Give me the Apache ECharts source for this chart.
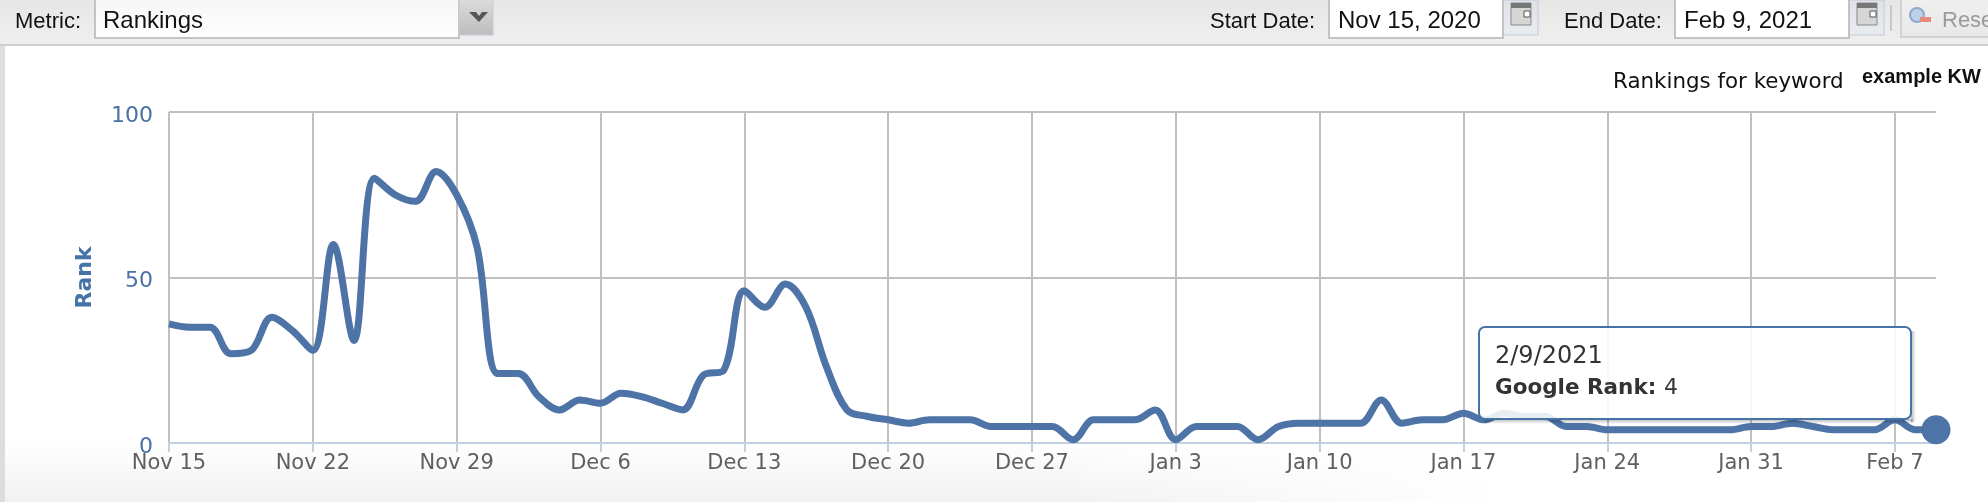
<!DOCTYPE html>
<html><head><meta charset="utf-8">
<style>html,body{margin:0;padding:0;background:#fff}#c{width:1988px;height:502px}</style>
<script src="https://cdn.jsdelivr.net/npm/echarts@6/dist/echarts.min.js"></script>
</head><body><div id="c"></div>
<script>
const categories = [
 'Nov 15','Nov 16','Nov 17','Nov 18','Nov 19','Nov 20','Nov 21','Nov 22','Nov 23','Nov 24','Nov 25','Nov 26','Nov 27','Nov 28','Nov 29','Nov 30',
 'Dec 1','Dec 2','Dec 3','Dec 4','Dec 5','Dec 6','Dec 7','Dec 8','Dec 9','Dec 10','Dec 11','Dec 12','Dec 13','Dec 14','Dec 15','Dec 16','Dec 17','Dec 18','Dec 19','Dec 20','Dec 21','Dec 22','Dec 23','Dec 24','Dec 25','Dec 26','Dec 27','Dec 28','Dec 29','Dec 30','Dec 31',
 'Jan 1','Jan 2','Jan 3','Jan 4','Jan 5','Jan 6','Jan 7','Jan 8','Jan 9','Jan 10','Jan 11','Jan 12','Jan 13','Jan 14','Jan 15','Jan 16','Jan 17','Jan 18','Jan 19','Jan 20','Jan 21','Jan 22','Jan 23','Jan 24','Jan 25','Jan 26','Jan 27','Jan 28','Jan 29','Jan 30','Jan 31',
 'Feb 1','Feb 2','Feb 3','Feb 4','Feb 5','Feb 6','Feb 7','Feb 8','Feb 9'];
const rank = [
 36,35,35,27,28,38,34,28,60,31,80,75,73,82,75,59,21,21,14,10,13,12,
 15,14,12,10,20.5,22,46,41,48,41,23,10,8,7,6,7,7,7,5,5,5,5,1,7,
 7,7,10,1,5,5,5,1,5,6,6,6,6,13,6,7,7,9,7,9,8,8,5,5,4,
 4,4,4,4,4,4,5,5,6,5,4,4,4,7,4,4];
const yTicks = [0,50,100];
const BLUE='#4e73a6', GRID='#c0c0c0', AXIS='#c0d0e0';
const arial='"Liberation Sans",Arial,sans-serif', dv='"DejaVu Sans",sans-serif';
const chart=echarts.init(document.getElementById('c'),null,{renderer:'canvas'});
const txt=(x,y,text,o={})=>({type:'text',x,y,z:o.z||5,style:Object.assign({text,font:'22px '+arial,fill:'#111',textVerticalAlign:'middle'},o.s||{})});
const rect=(x,y,w,h,fill,o={})=>({type:'rect',z:o.z||1,shape:{x,y,width:w,height:h,r:o.r||0},style:{fill,stroke:o.stroke||null,lineWidth:o.lw||0}});
const vg=(a,b)=>new echarts.graphic.LinearGradient(0,0,0,1,[{offset:0,color:a},{offset:1,color:b}]);
const hg=(a,b)=>new echarts.graphic.LinearGradient(0,0,1,0,[{offset:0,color:a},{offset:1,color:b}]);
const calendar=x=>[
 rect(x,0,35,35,vg('#dfe3e8','#e8ebf0'),{stroke:'#c4cad6',lw:1}),
 rect(x+8,3,20,22,'#d6d6d6',{stroke:'#8a8a8a',lw:1,z:2}),
 rect(x+8,3,20,5,'#777',{z:3}),
 rect(x+21,11,6,6,'#fff',{stroke:'#555',lw:1,z:3})];
chart.setOption({
 animation:false,
 backgroundColor:'#fff',
 grid:{left:169,top:112,width:1767,height:331,containLabel:false},
 xAxis:{type:'category',data:categories,boundaryGap:false,
  axisLine:{lineStyle:{color:AXIS,width:2}},
  axisTick:{interval:6,length:9,lineStyle:{color:AXIS,width:2},alignWithLabel:true},
  splitLine:{show:true,interval:6,lineStyle:{color:GRID,width:2}},
  axisLabel:{interval:6,color:'#5f5f5f',fontSize:21,fontFamily:dv,margin:10,hideOverlap:false}},
 yAxis:{type:'value',min:0,max:100,interval:50,
  name:'Rank',nameLocation:'middle',nameGap:67,nameRotate:90,
  nameTextStyle:{color:'#4572a7',fontSize:22,fontWeight:'bold',fontFamily:dv,padding:[0,0,6,0]},
  axisLine:{show:false},axisTick:{show:false},
  splitLine:{lineStyle:{color:GRID,width:2}},
  axisLabel:{color:'#4a70a6',fontSize:22,fontFamily:dv,margin:16,verticalAlign:'top',lineHeight:8,
   formatter:v=>yTicks.includes(v)?String(v):''}},
 series:[{type:'line',z:3,smooth:0.35,symbol:'none',showSymbol:true,showAllSymbol:true,clip:false,
  lineStyle:{color:BLUE,width:7},itemStyle:{color:BLUE},
  data:rank.map((v,i)=>i===rank.length-1?{value:v,symbol:'circle',symbolSize:29}:v)}],
 graphic:{elements:[
  rect(0,45,5,457,'#dddddd',{z:-1}),
  rect(0,443,1988,59,vg('#ffffff','#f1f1f1'),{z:-2}),
  {type:'rect',z:-1,shape:{x:1050,y:443,width:450,height:59},style:{fill:hg('rgba(255,255,255,0)','#fff')}},
  rect(1500,443,488,59,'#fff',{z:-1}),
  rect(0,0,1988,44,vg('#e6e6e6','#efefef'),{z:1}),
  rect(0,44,1988,2,'#cfcfcf',{z:2}),
  txt(15,22,'Metric:'),
  rect(95,-2,364,40,vg('#f6f6f6','#ffffff'),{stroke:'#c3c3c3',lw:2,z:2}),
  txt(103,21,'Rankings',{s:{font:'24px '+arial}}),
  rect(459,-2,34,37,vg('#dcdcdc','#bdbdbd'),{stroke:'#c4cad6',lw:1,z:2}),
  {type:'polygon',z:4,shape:{points:[[469,12],[476,12],[479,16],[482,12],[488,12],[479,22]]},style:{fill:'#555'}},
  txt(1210,22,'Start Date:'),
  rect(1329,-2,174,40,'#fff',{stroke:'#c3c3c3',lw:2,z:2}),
  txt(1338,21,'Nov 15, 2020',{s:{font:'24px '+arial}}),
  ...calendar(1503),
  txt(1564,22,'End Date:'),
  rect(1675,-2,174,40,'#fff',{stroke:'#c3c3c3',lw:2,z:2}),
  txt(1684,21,'Feb 9, 2021',{s:{font:'24px '+arial}}),
  ...calendar(1849),
  rect(1890,5,2,26,'#c8c8c8',{z:2}),
  rect(1901,-2,100,39,vg('#f0f0f0','#e8e8e8'),{stroke:'#d2d2d2',lw:2,z:2}),
  {type:'circle',z:3,shape:{cx:1917,cy:15,r:7},style:{fill:'#bcd0ea',stroke:'#8fa9c9',lineWidth:2}},
  rect(1920,17,11,5,'#e98a7a',{z:4}),
  txt(1942,21,'Rese',{s:{fill:'#9a9a9a',font:'22px '+arial}}),
  txt(1613,82,'Rankings for keyword',{s:{font:'21.4px '+dv}}),
  txt(1862,77,'example KW',{s:{font:'bold 20px '+arial}}),
  {type:'rect',z:49,shape:{x:1911,y:331,width:5,height:91},style:{fill:hg('rgba(0,0,0,0.28)','rgba(0,0,0,0)')}},
  {type:'rect',z:49,shape:{x:1484,y:419,width:429,height:5},style:{fill:vg('rgba(0,0,0,0.28)','rgba(0,0,0,0)')}},
  {type:'rect',z:50,shape:{x:1479,y:327,width:432,height:92,r:6},
   style:{fill:'rgba(255,255,255,0.87)',stroke:'#4572a7',lineWidth:2}},
  txt(1495,357,'2/9/2021',{z:51,s:{font:'24px '+dv,fill:'#333'}}),
  txt(1495,388,'Google Rank:',{z:51,s:{font:'bold 21.5px '+dv,fill:'#333'}}),
  txt(1664,388,'4',{z:51,s:{font:'22px '+dv,fill:'#333'}})
 ]}
});
</script></body></html>
